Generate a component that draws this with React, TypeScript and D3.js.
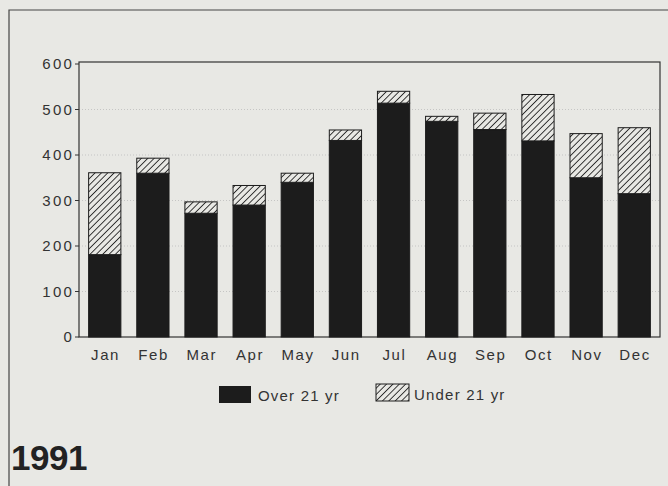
import React from "react";
import * as d3 from "d3";

const months = ["Jan", "Feb", "Mar", "Apr", "May", "Jun", "Jul", "Aug", "Sep", "Oct", "Nov", "Dec"];
const over21 = [181, 360, 272, 290, 340, 432, 514, 474, 456, 431, 350, 315];
const under21 = [180, 33, 25, 43, 20, 23, 26, 11, 36, 102, 97, 145];
const yTicks = [0, 100, 200, 300, 400, 500, 600];
const seriesNames = ["Over 21 yr", "Under 21 yr"];

const W = 668;
const H = 486;
const plot = { left: 79, right: 660, top: 62, bottom: 337 };
const ink = "#1c1c1c";
const bg = "#e8e8e4";
const font = "'Liberation Sans', Arial, sans-serif";

const App: React.FC = () => {
  const x = d3
    .scaleBand<string>()
    .domain(months)
    .range([plot.left, plot.right])
    .paddingInner(0.33)
    .paddingOuter(0.2);
  const y = d3.scaleLinear().domain([0, 600]).range([plot.bottom, plot.top + 2]);

  const rows = months.map((m, i) => ({ month: m, over: over21[i], under: under21[i] }));
  const stacked = d3.stack<{ month: string; over: number; under: number }>().keys(["over", "under"])(rows);

  return (
    <svg
      width={W}
      height={H}
      style={{ position: "absolute", left: 0, top: 0, display: "block" }}
      fontFamily={font}
    >
      <defs>
        <pattern id="hatch" width="4.5" height="4.5" patternUnits="userSpaceOnUse" patternTransform="rotate(45)">
          <rect width="4.5" height="4.5" fill={bg} />
          <line x1="0" y1="0" x2="0" y2="4.5" stroke={ink} strokeWidth="1.7" />
        </pattern>
      </defs>
      <rect width={W} height={H} fill={bg} />
      {/* outer frame */}
      <path d={`M9,${H} V10 H${W}`} fill="none" stroke="#444" strokeWidth={1.2} />

      {/* grid */}
      {yTicks.slice(1, -1).map((t) => (
        <line
          key={t}
          x1={plot.left}
          x2={plot.right}
          y1={y(t)}
          y2={y(t)}
          stroke="#bbb"
          strokeWidth={0.8}
          strokeDasharray="1,2"
        />
      ))}
      <rect
        x={plot.left}
        y={plot.top}
        width={plot.right - plot.left}
        height={plot.bottom - plot.top}
        fill="none"
        stroke="#333"
        strokeWidth={1.2}
      />

      {/* y axis */}
      {yTicks.map((t) => (
        <g key={t}>
          <line x1={plot.left - 4} x2={plot.left} y1={y(t)} y2={y(t)} stroke="#333" />
          <text
            x={plot.left - 5}
            y={y(t)}
            dy="0.35em"
            textAnchor="end"
            fontSize={15}
            letterSpacing={2.2}
            fill="#333"
          >
            {t}
          </text>
        </g>
      ))}

      {/* bars */}
      {stacked.map((s) =>
        s.map((d) => (
          <rect
            key={s.key + d.data.month}
            x={x(d.data.month)}
            y={y(d[1])}
            width={x.bandwidth()}
            height={y(d[0]) - y(d[1])}
            fill={s.key === "over" ? ink : "url(#hatch)"}
            stroke={ink}
            strokeWidth={1}
          />
        ))
      )}

      {/* x labels */}
      {months.map((m) => (
        <text
          key={m}
          x={(x(m) ?? 0) + x.bandwidth() / 2 + 0.8}
          y={plot.bottom + 23}
          textAnchor="middle"
          fontSize={15}
          letterSpacing={1.6}
          fill="#333"
        >
          {m}
        </text>
      ))}

      {/* legend */}
      <rect x={219} y={386} width={32} height={17} fill={ink} />
      <text x={258} y={401} fontSize={15} letterSpacing={1.2} fill="#333">
        {seriesNames[0]}
      </text>
      <rect x={376} y={384} width={33} height={17} fill="url(#hatch)" stroke={ink} />
      <text x={414} y={400} fontSize={15} letterSpacing={1.2} fill="#333">
        {seriesNames[1]}
      </text>

      {/* year */}
      <text x={11} y={470} fontSize={35} fontWeight="bold" letterSpacing={-0.5} fill="#222">
        1991
      </text>
    </svg>
  );
};

export default App;
